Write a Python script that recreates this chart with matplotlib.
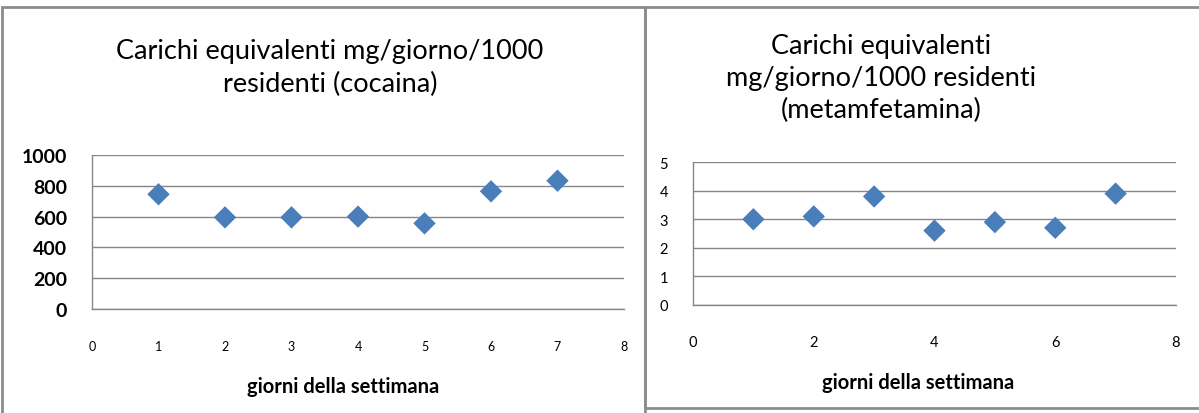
import matplotlib
matplotlib.use("Agg")
import matplotlib.pyplot as plt
from matplotlib.patches import Rectangle

plt.rcParams['font.family'] = ['Lato', 'DejaVu Sans']

days = [1, 2, 3, 4, 5, 6, 7]
cocaina = [745, 595, 595, 600, 556, 764, 833]
metamfetamina = [3.0, 3.1, 3.8, 2.6, 2.9, 2.7, 3.9]

title_left = "Carichi equivalenti mg/giorno/1000\nresidenti (cocaina)"
title_right = "Carichi equivalenti\nmg/giorno/1000 residenti\n(metamfetamina)"
xlabel = "giorni della settimana"

W, H = 1199, 414
fig = plt.figure(figsize=(W / 100, H / 100), dpi=100)

border = "#8c8c8c"
fig.patches.append(Rectangle((2 / W, -10 / H), 643 / W, (414 - 8 + 10) / H,
                             transform=fig.transFigure, fill=False,
                             edgecolor=border, linewidth=2))
fig.patches.append(Rectangle((645 / W, (414 - 409) / H), 600 / W, (409 - 8) / H,
                             transform=fig.transFigure, fill=False,
                             edgecolor=border, linewidth=2))

marker_color = "#4a7ebb"
grid_color = "#868686"


def style(ax, ylim, yticks, xticks, ysize, xsize, yweight):
    ax.set_xlim(0, 8)
    ax.set_ylim(*ylim)
    ax.set_yticks(yticks)
    ax.set_xticks(xticks)
    for s in ("top", "right"):
        ax.spines[s].set_visible(False)
    for s in ("left", "bottom"):
        ax.spines[s].set_color(grid_color)
        ax.spines[s].set_linewidth(1)
    ax.yaxis.grid(True, color=grid_color, linewidth=1)
    ax.set_axisbelow(True)
    ax.tick_params(axis="both", length=0)
    ax.tick_params(axis="y", labelsize=ysize, pad=18)
    ax.tick_params(axis="x", labelsize=xsize, pad=22)
    for lab in ax.get_yticklabels():
        lab.set_fontweight(yweight)
    ax.patch.set_alpha(0)


# left panel
axL = fig.add_axes([92 / W, (414 - 310) / H, 532 / W, 154 / H])
axL.scatter(days, cocaina, marker="D", s=130, color=marker_color,
            edgecolors="none", zorder=3, clip_on=False)
style(axL, (0, 1000), [0, 200, 400, 600, 800, 1000], range(0, 9), 14, 9, "bold")
fig.text(330 / W, 1 - 68 / H, title_left, ha="center", va="center",
         fontsize=19.5, linespacing=1.38)
fig.text(343 / W, 1 - 387 / H, xlabel, ha="center", va="center",
         fontsize=14.5, fontweight="bold")

# right panel
axR = fig.add_axes([693 / W, (414 - 305.7) / H, 483 / W, 142.4 / H])
axR.scatter(days, metamfetamina, marker="D", s=130, color=marker_color,
            edgecolors="none", zorder=3, clip_on=False)
style(axR, (0, 5), [0, 1, 2, 3, 4, 5], [0, 2, 4, 6, 8], 10.5, 10.5, "normal")
fig.text(881 / W, 1 - 78.5 / H, title_right, ha="center", va="center",
         fontsize=19.5, linespacing=1.36)
fig.text(918 / W, 1 - 383 / H, xlabel, ha="center", va="center",
         fontsize=14.5, fontweight="bold")

fig.savefig("out.png", dpi=100)
